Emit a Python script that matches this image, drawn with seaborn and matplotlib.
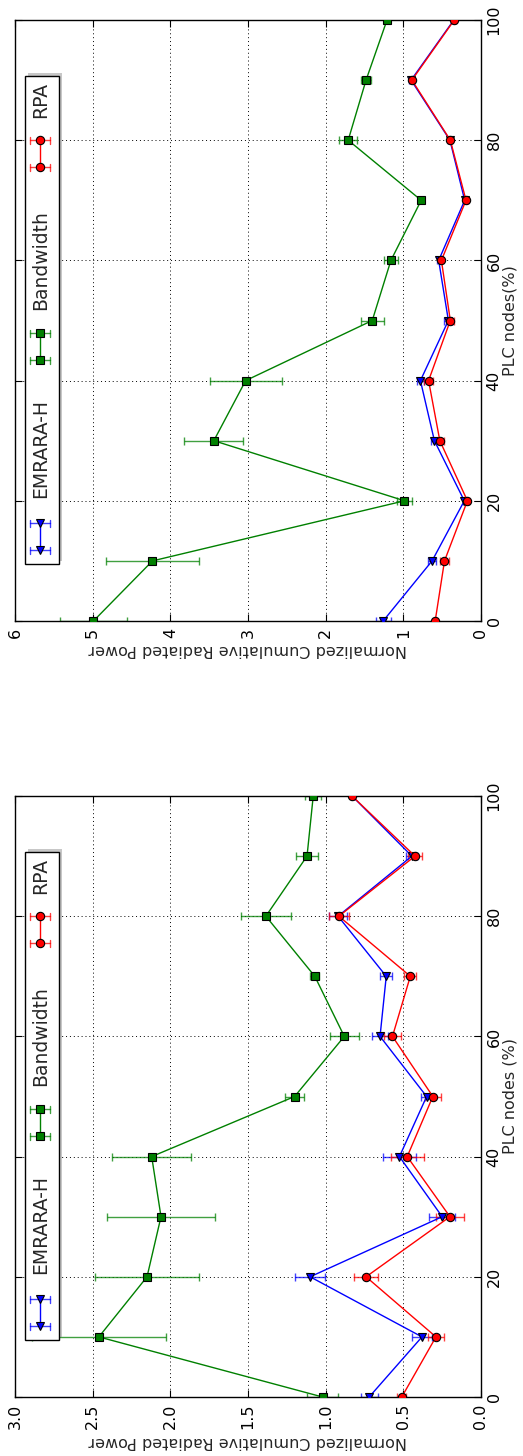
import numpy as np
import pandas as pd
import seaborn as sns
import matplotlib
matplotlib.use("Agg")
import matplotlib.pyplot as plt
from matplotlib.patches import Rectangle

# ---- data -------------------------------------------------------------
plc_nodes = [0, 10, 20, 30, 40, 50, 60, 70, 80, 90, 100]
series_names = ["EMRARA-H", "Bandwidth", "RPA"]

# scenario A (range 0-3)
a_emrara = [0.72, 0.38, 1.10, 0.25, 0.525, 0.35, 0.65, 0.61, 0.92, 0.445, 0.83]
a_emrara_err = [0.055, 0.065, 0.095, 0.085, 0.105, 0.037, 0.05, 0.038, 0.06, 0.035, 0.01]
a_bandwidth = [1.02, 2.46, 2.15, 2.06, 2.12, 1.20, 0.88, 1.07, 1.385, 1.12, 1.08]
a_bandwidth_err = [0.10, 0.43, 0.335, 0.35, 0.255, 0.06, 0.095, 0.03, 0.16, 0.07, 0.05]
a_rpa = [0.51, 0.29, 0.74, 0.20, 0.475, 0.31, 0.57, 0.455, 0.915, 0.425, 0.83]
a_rpa_err = [0.03, 0.053, 0.075, 0.09, 0.105, 0.053, 0.055, 0.039, 0.066, 0.045, 0.01]

# scenario B (range 0-6)
b_emrara = [1.26, 0.63, 0.215, 0.60, 0.78, 0.42, 0.545, 0.21, 0.40, 0.90, 0.35]
b_emrara_err = [0.095, 0.05, 0.02, 0.04, 0.05, 0.05, 0.02, 0.02, 0.02, 0.03, 0.02]
b_bandwidth = [4.99, 4.23, 0.985, 3.44, 3.03, 1.40, 1.16, 0.77, 1.71, 1.48, 1.21]
b_bandwidth_err = [0.435, 0.6, 0.1, 0.38, 0.465, 0.15, 0.085, 0.02, 0.115, 0.065, 0.03]
b_rpa = [0.59, 0.47, 0.175, 0.53, 0.675, 0.395, 0.51, 0.193, 0.395, 0.89, 0.344]
b_rpa_err = [0.02, 0.06, 0.02, 0.05, 0.055, 0.05, 0.02, 0.02, 0.02, 0.02, 0.02]

power_ticks_a = [0.0, 0.5, 1.0, 1.5, 2.0, 2.5, 3.0]
power_ticks_b = [0, 1, 2, 3, 4, 5, 6]
plc_ticks = [0, 20, 40, 60, 80, 100]

# ---- style ------------------------------------------------------------
sns.set_style("white")
plt.rcParams["font.family"] = ["DejaVu Sans"]

colors = ["#0000ff", "#008000", "#ff0000"]
markers = ["v", "s", "o"]
MS = 6

W, H = 523, 1456
fig = plt.figure(figsize=(W / 100, H / 100), dpi=100)


def make_axes(top_px, bottom_px):
    left, right = 15, 481
    return fig.add_axes([left / W, 1 - bottom_px / H,
                         (right - left) / W, (bottom_px - top_px) / H])


def draw_panel(ax, values, errors, xmax, xticks, xticklabels, plc_label):
    for i, (name, v, e) in enumerate(zip(series_names, values, errors)):
        df = pd.DataFrame({"power": v, "plc": plc_nodes})
        ax.errorbar(v, plc_nodes, xerr=e, fmt="none", ecolor=colors[i],
                    alpha=0.75, elinewidth=1.0, capsize=3, capthick=1.0,
                    zorder=2 + i * 0.1)
        sns.lineplot(data=df, x="power", y="plc", orient="y", sort=False,
                     color=colors[i], marker=markers[i], markersize=MS,
                     markeredgecolor="black", markeredgewidth=0.8,
                     linewidth=1.0, ax=ax, zorder=3 + i * 0.1, legend=False)

    ax.set_xlim(xmax, 0)
    ax.set_ylim(0, 100)
    ax.set_xticks(xticks)
    ax.set_xticklabels(xticklabels)
    ax.set_yticks(plc_ticks)
    ax.grid(True, color="black", linestyle=(0, (1, 3)), linewidth=0.7)

    ax.tick_params(axis="both", direction="in", length=5, width=0.8,
                   top=True, bottom=True, left=True, right=True,
                   labelsize=11.5, colors="black")
    ax.tick_params(axis="x", labelrotation=90, pad=5)
    ax.tick_params(axis="y", labelleft=False, labelright=True,
                   labelrotation=90, pad=4)
    for lab in ax.get_yticklabels():
        lab.set_verticalalignment("center")

    ax.set_xlabel("Normalized Cumulative Radiated Power", fontsize=11.5,
                  rotation=180, labelpad=3)
    ax.set_ylabel(plc_label, fontsize=11.5, rotation=90, labelpad=1)
    ax.yaxis.set_label_position("right")

    for s in ax.spines.values():
        s.set_color("black")
        s.set_linewidth(1.0)

    # legend box, drawn upright in the panel's rotated frame
    ax_w = 466.0
    ax_h = 601.0
    fx = lambda px: (px - 15) / ax_w
    fy = lambda rel: 1 - rel / ax_h
    x0, x1 = fx(25), fx(59)
    y_top, y_bot = fy(56), fy(544)
    ax.add_patch(Rectangle((x0 + 3 / ax_w, y_bot + 3 / ax_h), x1 - x0, y_top - y_bot,
                           transform=ax.transAxes, facecolor="#999999",
                           edgecolor="none", alpha=0.55, zorder=9))
    ax.add_patch(Rectangle((x0, y_bot), x1 - x0, y_top - y_bot,
                           transform=ax.transAxes, facecolor="white",
                           edgecolor="black", linewidth=1.0, zorder=10))

    handle_pos = [(503, 530), (313, 340), (120, 147)]
    text_pos = [428, 240, 80]
    hx = fx(40.3)
    dx = 10 / ax_w
    cap = 3.5 / ax_h
    for i, name in enumerate(series_names):
        r0, r1 = handle_pos[i]
        ya, yb = fy(r0), fy(r1)
        for yy in (ya, yb):
            ax.plot([hx - dx, hx + dx], [yy, yy], color=colors[i], alpha=0.75,
                    lw=1.0, transform=ax.transAxes, zorder=11, clip_on=False)
            for xx in (hx - dx, hx + dx):
                ax.plot([xx, xx], [yy - cap, yy + cap], color=colors[i],
                        alpha=0.75, lw=1.0, transform=ax.transAxes,
                        zorder=11, clip_on=False)
        ax.plot([hx, hx], [ya, yb], color=colors[i], lw=1.0,
                marker=markers[i], markersize=MS, markeredgecolor="black",
                markeredgewidth=0.8, transform=ax.transAxes, zorder=12,
                clip_on=False)
        ax.text(fx(40.5), fy(text_pos[i]), name, rotation=90, fontsize=13.5,
                ha="center", va="center", transform=ax.transAxes, zorder=12)


ax_b = make_axes(20, 621)
draw_panel(ax_b, [b_emrara, b_bandwidth, b_rpa],
           [b_emrara_err, b_bandwidth_err, b_rpa_err],
           6, power_ticks_b, [str(t) for t in power_ticks_b], "PLC nodes(%)")

ax_a = make_axes(796, 1397)
draw_panel(ax_a, [a_emrara, a_bandwidth, a_rpa],
           [a_emrara_err, a_bandwidth_err, a_rpa_err],
           3.0, power_ticks_a, [f"{t:.1f}" for t in power_ticks_a], "PLC nodes (%)")

fig.savefig("out.png", dpi=100, facecolor="white")
